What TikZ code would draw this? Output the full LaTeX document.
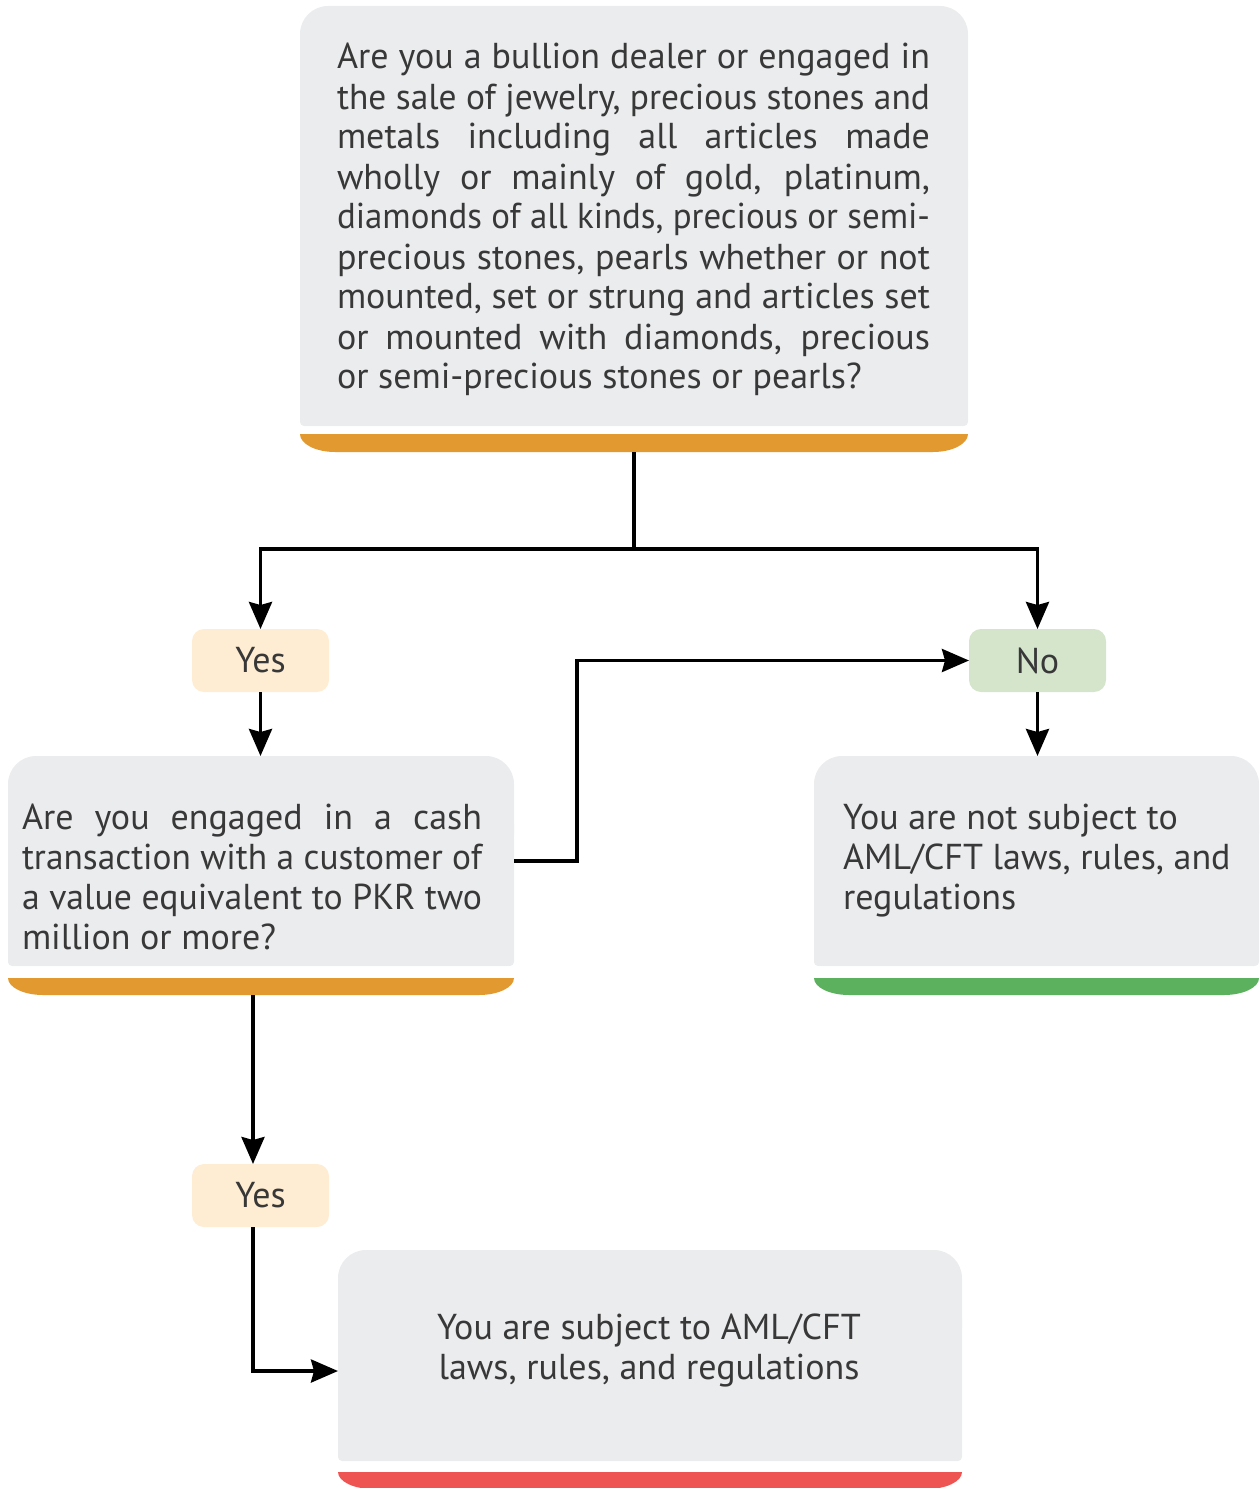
\documentclass[tikz,border=0pt]{standalone}
\usepackage{fontspec}
\setmainfont{PT Sans}
\usepackage{graphicx}
\usetikzlibrary{arrows.meta}

\definecolor{cardgray}{HTML}{EBECEE}
\definecolor{barorange}{HTML}{E2992F}
\definecolor{bargreen}{HTML}{5BB15D}
\definecolor{barred}{HTML}{EE5552}
\definecolor{yesfill}{HTML}{FEEDD2}
\definecolor{nofill}{HTML}{D5E5CC}
\definecolor{ink}{HTML}{383838}

% one justified line: spaces stretch to fill, or the line is squeezed if too long
\newsavebox\jlinebox
\newcommand\jline[2]{%
  \sbox\jlinebox{#2}%
  \ifdim\wd\jlinebox>#1\relax
    \resizebox{#1}{\height}{\usebox\jlinebox}%
  \else
    \makebox[#1][s]{#2}%
  \fi}

\newcommand\bodyfont{\fontsize{36}{40}\selectfont}

% grey card: large rounding on top, small rounding at the bottom
\newcommand\card[5]{%
  \fill[cardgray, rounded corners=28pt] (#2,#3) rectangle (#4,{(#3+#5)/2});
  \fill[cardgray, rounded corners=4pt] (#2,{(#3+#5)/2-40}) rectangle (#4,#5);
  \node[anchorbox, minimum width={#4-#2}, minimum height={#5-#3}] (#1) at ({(#2+#4)/2},{(#3+#5)/2}) {};}

% coloured strip under a card: flat top, rounded bottom corners
\newcommand\cardbar[6]{%
  \fill[#6] (#2,#3) -- (#4,#3)
    .. controls (#4,{#3+0.552*(#5-#3)}) and ({#4-0.448*35},#5) .. ({#4-35},#5)
    -- ({#2+35},#5)
    .. controls ({#2+0.448*35},#5) and (#2,{#3+0.552*(#5-#3)}) .. (#2,#3) -- cycle;
  \node[anchorbox, minimum width={#4-#2}, minimum height={#5-#3}] (#1) at ({(#2+#4)/2},{(#3+#5)/2}) {};}

\tikzset{
  anchorbox/.style={inner sep=0pt, outer sep=0pt, draw=none},
  cardtext/.style={inner sep=0pt, outer sep=0pt, text=ink, anchor=base west},
  answer/.style={inner sep=0pt, outer sep=0pt, minimum width=137pt, minimum height=63pt,
    rounded corners=12pt, text=ink, font=\bodyfont},
  conn/.style={line width=3.6pt, draw=black, line join=miter},
  arr/.style={conn, -{Stealth[length=27pt, width=23pt, inset=3pt]}},
}

\begin{document}
\begin{tikzpicture}[x=1pt, y=-1pt]
\useasboundingbox (0,0) rectangle (1259,1488);

% question cards and result cards
\card{q1}{300}{6}{968}{426}
\cardbar{q1bar}{300}{434}{968}{452}{barorange}
\card{q2}{8}{756}{514}{966}
\cardbar{q2bar}{8}{978}{514}{995}{barorange}
\card{r1}{814}{756}{1259}{966}
\cardbar{r1bar}{814}{978}{1259}{995}{bargreen}
\card{r2}{338}{1250}{962}{1461}
\cardbar{r2bar}{338}{1472}{962}{1489}{barred}

\node[cardtext] (q1text) at (337,69) {\parbox[t]{593pt}{\bodyfont
  \jline{593pt}{Are you a bullion dealer or engaged in}\par
  \jline{593pt}{the sale of jewelry, precious stones and}\par
  \jline{593pt}{metals including all articles made}\par
  \jline{593pt}{wholly or mainly of gold, platinum,}\par
  \jline{593pt}{diamonds of all kinds, precious or semi-}\par
  \jline{593pt}{precious stones, pearls whether or not}\par
  \jline{593pt}{mounted, set or strung and articles set}\par
  \jline{593pt}{or mounted with diamonds, precious}\par
  or semi-precious stones or pearls?\par}};

\node[cardtext] (q2text) at (22,829) {\parbox[t]{460pt}{\bodyfont
  \jline{460pt}{Are you engaged in a cash}\par
  \jline{460pt}{transaction with a customer of}\par
  \jline{460pt}{a value equivalent to PKR two}\par
  million or more?\par}};

\node[cardtext] (r1text) at (843,829) {\parbox[t]{410pt}{\bodyfont\raggedright
  You are not subject to\\
  AML/CFT laws, rules, and\\
  regulations}};

\node[cardtext, anchor=base] (r2text) at (649,1339) {\parbox[t]{560pt}{\bodyfont\centering
  You are subject to AML/CFT\\
  laws, rules, and regulations}};

% answer tags
\node[answer, fill=yesfill] (yes1) at (260.5,660.5) {Yes};
\node[answer, fill=nofill] (no1) at (1037.5,660.5) {No};
\node[answer, fill=yesfill] (yes2) at (260.5,1195.5) {Yes};

% connectors
\coordinate (split) at (634,549);
\draw[arr] (q1bar.south) -- (split) -| (yes1.north);
\draw[arr] (split) -| (no1.north);
\draw[arr] (yes1.south) -- (yes1.south |- q2.north);
\draw[arr] (no1.south) -- (no1.south |- r1.north);
\draw[arr] (q2.east) -- ++(63,0) |- (no1.west);
\draw[arr] ([xshift=-8pt]q2bar.south) -- ([xshift=-8pt]q2bar.south |- yes2.north);
\draw[arr] ([xshift=-7.5pt]yes2.south) |- ([yshift=-15.5pt]r2.west);
\end{tikzpicture}
\end{document}
